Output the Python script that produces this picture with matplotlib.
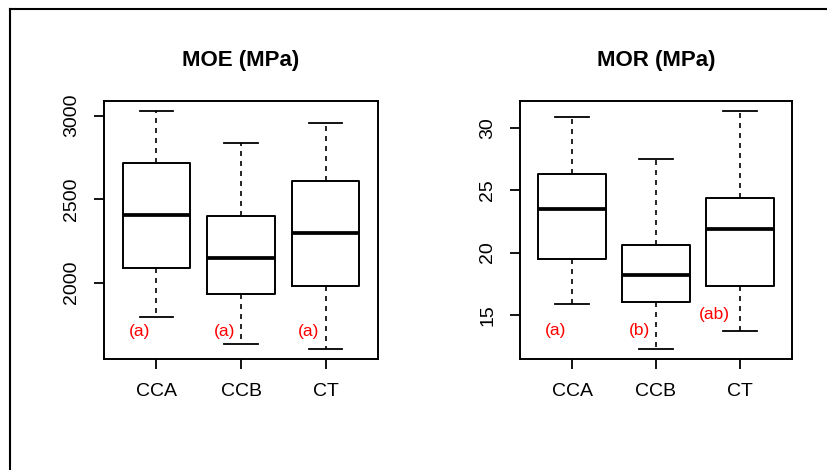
import matplotlib.pyplot as plt
from matplotlib.lines import Line2D

plt.rcParams['font.family'] = ['Liberation Sans', 'DejaVu Sans']

groups = ["CCA", "CCB", "CT"]

# MOE (MPa) box statistics
moe_whislo = [1796, 1632, 1600]
moe_q1 = [2087, 1931, 1978]
moe_med = [2407, 2146, 2300]
moe_q3 = [2717, 2401, 2608]
moe_whishi = [3030, 2836, 2954]
moe_letters = ["(a)", "(a)", "(a)"]
moe_letter_x = [0.8, 1.8, 2.8]
moe_letter_y = [1705, 1705, 1705]

# MOR (MPa)
mor_whislo = [15.84, 12.2, 13.67]
mor_q1 = [19.51, 15.98, 17.31]
mor_med = [23.5, 18.23, 21.87]
mor_q3 = [26.36, 20.63, 24.43]
mor_whishi = [30.9, 27.52, 31.43]
mor_letters = ["(a)", "(b)", "(ab)"]
mor_letter_x = [0.8, 1.8, 2.7]
mor_letter_y = [13.7, 13.7, 15.0]


def draw_panel(ax, title, lo, q1, med, q3, hi, letters, lx, ly, yticks):
    stats = []
    for i, g in enumerate(groups):
        stats.append(dict(label=g, whislo=lo[i], q1=q1[i], med=med[i],
                          q3=q3[i], whishi=hi[i], fliers=[]))
    ax.bxp(stats, positions=[1, 2, 3], widths=0.8, showfliers=False,
           boxprops=dict(color='black', linewidth=1.4),
           medianprops=dict(color='black', linewidth=2.7, solid_capstyle='butt'),
           whiskerprops=dict(color='black', linewidth=1.2, linestyle=(0, (3, 3))),
           capprops=dict(color='black', linewidth=1.3))
    span = max(hi) - min(lo)
    ax.set_xlim(0.38, 3.62)
    ax.set_ylim(min(lo) - 0.04 * span, max(hi) + 0.04 * span)
    ax.set_yticks(yticks)
    ax.set_yticklabels([str(t) for t in yticks], rotation=90, va='center')
    ax.set_xticks([1, 2, 3])
    ax.set_xticklabels(groups)
    ax.tick_params(axis='both', length=7, width=1.3, labelsize=14, pad=10)
    for s in ax.spines.values():
        s.set_linewidth(1.4)
    for i in range(3):
        ax.text(lx[i], ly[i], letters[i], color='red', fontsize=12.5,
                ha='center', va='center')
    ax.set_title(title, fontsize=16, fontweight='bold', pad=25)


fig = plt.figure(figsize=(8.27, 4.70), dpi=100)
ax1 = fig.add_axes([104 / 827, 111 / 470, 274 / 827, 258 / 470])
ax2 = fig.add_axes([520 / 827, 111 / 470, 272 / 827, 258 / 470])

draw_panel(ax1, "MOE (MPa)", moe_whislo, moe_q1, moe_med, moe_q3, moe_whishi,
           moe_letters, moe_letter_x, moe_letter_y, [2000, 2500, 3000])
draw_panel(ax2, "MOR (MPa)", mor_whislo, mor_q1, mor_med, mor_q3, mor_whishi,
           mor_letters, mor_letter_x, mor_letter_y, [15, 20, 25, 30])

# outer frame (left and top edges)
fig.add_artist(Line2D([10 / 827, 10 / 827], [0, 461 / 470], color='black', linewidth=1.5))
fig.add_artist(Line2D([10 / 827, 1], [461 / 470, 461 / 470], color='black', linewidth=1.5))

fig.savefig("out.png", dpi=100)
